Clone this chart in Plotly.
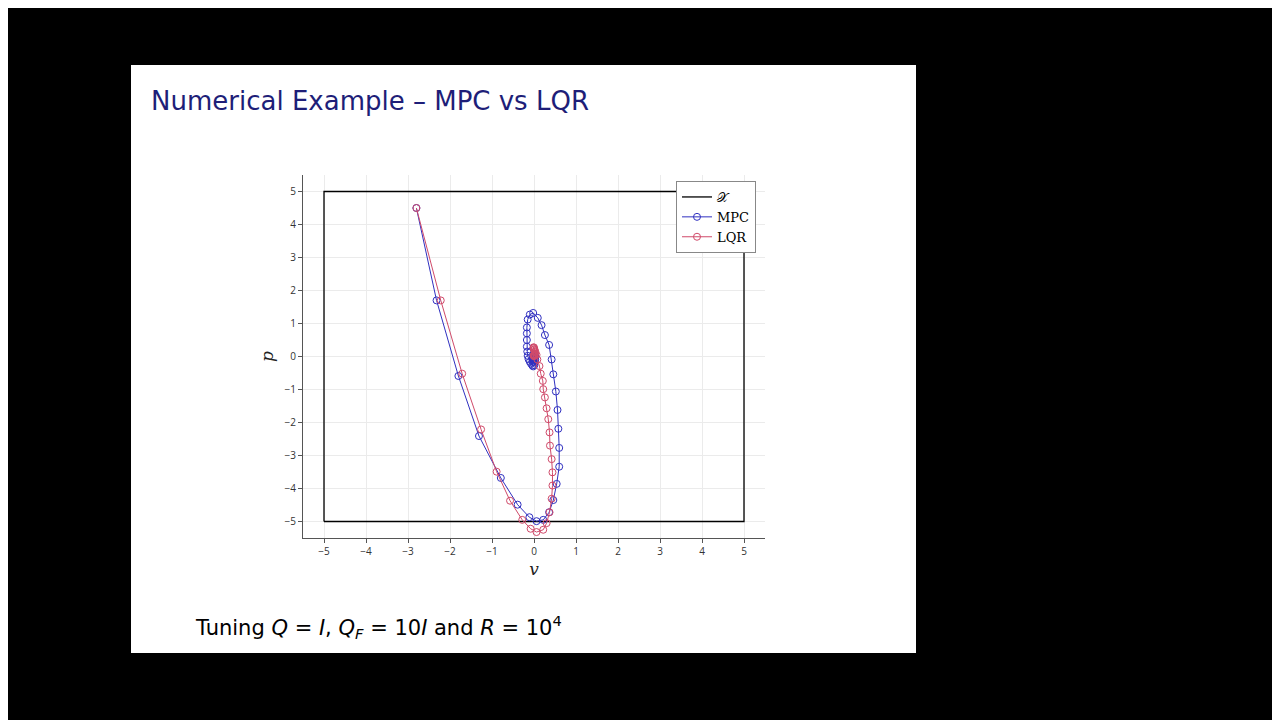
import plotly.graph_objects as go

# trajectories (v, p)
mpc_v = [-2.80, -2.32, -1.80, -1.31, -0.79, -0.39, -0.11, 0.06, 0.22, 0.36, 0.46, 0.54, 0.60, 0.60,
         0.58, 0.56, 0.52, 0.46, 0.42, 0.36, 0.26, 0.18, 0.09, -0.02, -0.10, -0.15, -0.17, -0.17,
         -0.17, -0.17, -0.16, -0.15, -0.13, -0.10, -0.07, -0.04, -0.02, 0.01, 0.02, 0.03, 0.03,
         0.02, 0.00, -0.02, -0.03, -0.02, -0.01, 0.00, 0.01, 0.00]
mpc_p = [4.50, 1.70, -0.59, -2.41, -3.68, -4.49, -4.87, -4.99, -4.95, -4.72, -4.35, -3.86, -3.34, -2.77,
         -2.19, -1.62, -1.06, -0.54, -0.09, 0.35, 0.65, 0.95, 1.17, 1.32, 1.27, 1.12, 0.88, 0.70,
         0.50, 0.30, 0.15, 0.02, -0.08, -0.16, -0.22, -0.27, -0.30, -0.26, -0.18, -0.10, -0.02,
         0.04, 0.05, 0.00, -0.06, -0.12, -0.15, -0.10, -0.05, -0.08]
lqr_v = [-2.80, -2.22, -1.71, -1.26, -0.89, -0.57, -0.28, -0.08, 0.06, 0.22, 0.30, 0.37, 0.42, 0.44,
         0.44, 0.42, 0.38, 0.37, 0.34, 0.30, 0.26, 0.22, 0.21, 0.16, 0.13, 0.08, 0.06, 0.03,
         0.01, 0.00, -0.01, -0.01, 0.00, 0.01, 0.02, 0.02, 0.01, 0.00, -0.01, 0.00, 0.01, 0.01, 0.00]
lqr_p = [4.50, 1.70, -0.52, -2.21, -3.49, -4.37, -4.95, -5.22, -5.32, -5.25, -5.05, -4.72, -4.31, -3.91,
         -3.51, -3.11, -2.70, -2.30, -1.90, -1.57, -1.24, -0.99, -0.74, -0.52, -0.29, -0.09, 0.05, 0.15,
         0.22, 0.27, 0.28, 0.25, 0.21, 0.17, 0.13, 0.09, 0.06, 0.04, 0.02, 0.01, 0.03, 0.05, 0.04]
box_v = [-5, 5, 5, -5, -5]
box_p = [-5, -5, 5, 5, -5]
ticks = [-5, -4, -3, -2, -1, 0, 1, 2, 3, 4, 5]

OX, OY = 8, 8  # page offset of the plot div


def px(x):
    return (x - OX) / 1280


def py(y):
    return 1 - (y - OY) / 720


fig = go.Figure()
fig.add_trace(go.Scatter(x=box_v, y=box_p, mode="lines", name="𝒳",
                         line=dict(color="black", width=1.3)))
fig.add_trace(go.Scatter(x=mpc_v, y=mpc_p, mode="lines+markers", name="MPC",
                         line=dict(color="#3030c0", width=1),
                         marker=dict(symbol="circle-open", size=7, color="#3030c0")))
fig.add_trace(go.Scatter(x=lqr_v, y=lqr_p, mode="lines+markers", name="LQR",
                         line=dict(color="#d04a6a", width=1),
                         marker=dict(symbol="circle-open", size=7, color="#d04a6a")))

ax = dict(range=[-5.5, 5.5], tickvals=ticks, showgrid=True, gridcolor="#ebebeb", zeroline=False,
          showline=True, linecolor="#555", ticks="outside", ticklen=4, tickcolor="#555",
          tickfont=dict(size=10, color="#333"))

fig.update_layout(
    width=1280, height=720, paper_bgcolor="black", plot_bgcolor="white",
    margin=dict(l=0, r=0, t=0, b=0), showlegend=True,
    xaxis=dict(ax, domain=[px(303), px(765)], anchor="y",
               title=dict(text="<i>v</i>", font=dict(family="DejaVu Serif", size=17, color="#222"), standoff=6)),
    yaxis=dict(ax, domain=[py(538), py(175)], anchor="x",
               title=dict(text="<i>p</i>", font=dict(family="DejaVu Serif", size=17, color="#222"), standoff=6)),
    legend=dict(x=px(676), y=py(181), xref="paper", yref="paper", xanchor="left", yanchor="top",
                bgcolor="white", bordercolor="#888", borderwidth=1,
                font=dict(family="DejaVu Serif", size=13, color="black"), tracegroupgap=0),
    shapes=[dict(type="rect", xref="paper", yref="paper", x0=px(131), x1=px(916),
                 y0=py(653), y1=py(65), fillcolor="white", line=dict(width=0), layer="below")],
    annotations=[
        dict(text="Numerical Example – MPC vs LQR", xref="paper", yref="paper", x=px(149), y=py(101),
             xanchor="left", yanchor="middle", showarrow=False,
             font=dict(family="DejaVu Sans", size=26, color="#1e1e78")),
        dict(text="Tuning <i>Q</i> = <i>I</i>, <i>Q<sub>F</sub></i> = 10<i>I</i> and <i>R</i> = 10<sup>4</sup>",
             xref="paper", yref="paper", x=px(193), y=py(627), xanchor="left", yanchor="middle",
             showarrow=False, font=dict(family="DejaVu Sans", size=21, color="black")),
    ],
)

fig.write_html("out.html")
